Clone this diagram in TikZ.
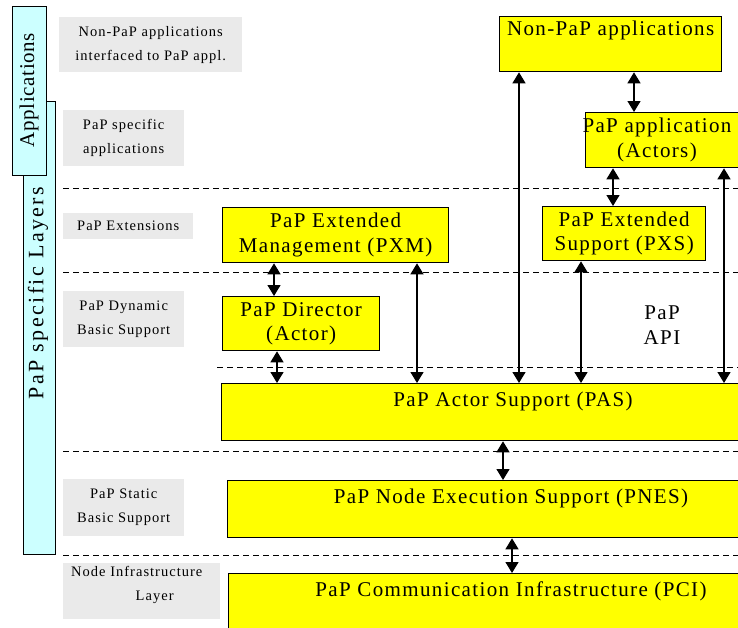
\documentclass[tikz,border=0pt]{standalone}
\usepackage{fontspec}
\setmainfont{Liberation Serif}
\newfontfamily\boxfamily[LetterSpace=6.5]{Liberation Serif}
\newfontfamily\tagfamily[LetterSpace=7]{Liberation Serif}
\newfontfamily\sidefamily[LetterSpace=3]{Liberation Serif}
\newfontfamily\layerfamily[LetterSpace=11]{Liberation Serif}
\usetikzlibrary{arrows.meta}
\definecolor{boxyellow}{RGB}{255,255,0}
\definecolor{sidecyan}{RGB}{204,255,255}
\definecolor{taggray}{RGB}{234,234,234}

\begin{document}
\begin{tikzpicture}[x=1pt,y=-1pt,
  ybox/.style={draw=black, line width=1.3pt, fill=boxyellow, inner sep=0pt,
    anchor=north west, align=center,
    font=\boxfamily\fontsize{21}{24.5}\selectfont},
  boxtext/.style={inner sep=0pt, align=center,
    font=\boxfamily\fontsize{21}{24.5}\selectfont},
  tag/.style={fill=taggray, inner sep=0pt, anchor=north west, align=center,
    font=\tagfamily\fontsize{14.5}{24}\selectfont},
  sidebar/.style={draw=black, line width=1.3pt, fill=sidecyan, inner sep=0pt,
    anchor=north west},
  layerline/.style={dash pattern=on 6pt off 4pt, line width=0.9pt},
  link/.style={{Triangle[width=13pt,length=11pt]}-{Triangle[width=13pt,length=11pt]},
    line width=1.3pt},
]
\fill[white] (0,0) rectangle (738,627);
\useasboundingbox (0,0) rectangle (738,627);

% side bars
\node[sidebar, minimum width=32pt, minimum height=453pt] (layersbar) at (23,101) {};
\node[rotate=90, font=\layerfamily\fontsize{22}{24}\selectfont] (layerstext) at (38,293) {PaP specific Layers};
\node[sidebar, minimum width=34pt, minimum height=169pt] (appsbar) at (12,6) {};
\node[rotate=90, font=\sidefamily\fontsize{21}{24}\selectfont] (appstext) at (29,90) {Applications};

% layer tags
\node[tag, minimum width=183pt, minimum height=55pt] (tagnonpap) at (59,17)
  {Non-PaP applications\\interfaced to PaP appl.};
\node[tag, minimum width=121pt, minimum height=56pt] (tagspecific) at (63,110)
  {PaP specific\\applications};
\node[tag, minimum width=130pt, minimum height=26pt] (tagext) at (63,213)
  {PaP Extensions};
\node[tag, minimum width=121pt, minimum height=56pt] (tagdyn) at (63,291)
  {PaP Dynamic\\Basic Support};
\node[tag, minimum width=121pt, minimum height=57pt] (tagstatic) at (63,479)
  {PaP Static\\Basic Support};
\node[tag, minimum width=157pt, minimum height=56pt] (tagnode) at (63,563) {};
\node[font=\tagfamily\fontsize{14.5}{24}\selectfont, align=left, inner sep=0pt,
  anchor=north west] (tagnodetext) at (71,566)
  {Node Infrastructure\\\hspace*{4.45em}Layer};

% layer separators
\draw[layerline] (63,188) -- (738,188);
\draw[layerline] (63,272) -- (738,272);
\draw[layerline] (217,367) -- (738,367);
\draw[layerline] (63,451) -- (738,451);
\draw[layerline] (63,555) -- (738,555);

% component boxes
\node[ybox, minimum width=222pt, minimum height=55pt] (nonpap) at (499,16)
  {Non-PaP applications\\\strut};
\node[ybox, minimum width=160pt, minimum height=55pt] (papapp) at (585,112) {};
\node[boxtext] (papapptext) at (657,140) {PaP application\\(Actors)};
\node[ybox, minimum width=226pt, minimum height=55pt] (pxm) at (222,207)
  {PaP Extended\\Management (PXM)};
\node[ybox, minimum width=163pt, minimum height=54pt] (pxs) at (542,206)
  {PaP Extended\\Support (PXS)};
\node[ybox, minimum width=157pt, minimum height=54pt] (dir) at (222,296)
  {PaP Director\\(Actor)};
\node[ybox, minimum width=524pt, minimum height=57pt] (pas) at (221,383) {};
\node[boxtext] (pastext) at (513,401) {PaP Actor Support (PAS)};
\node[ybox, minimum width=518pt, minimum height=57pt] (pnes) at (227,480) {};
\node[boxtext] (pnestext) at (511,498) {PaP Node Execution Support (PNES)};
\node[ybox, minimum width=517pt, minimum height=67pt] (pci) at (228,573) {};
\node[boxtext] (pcitext) at (511,591) {PaP Communication Infrastructure (PCI)};

\node[boxtext] (apitext) at (662,325) {PaP\\API};

% connector columns
\coordinate (c1) at (634,0);
\coordinate (c2) at (613,0);
\coordinate (c3) at (519,0);
\coordinate (c4) at (724,0);
\coordinate (c5) at (581,0);
\coordinate (c6) at (274,0);
\coordinate (c7) at (277,0);
\coordinate (c8) at (417,0);
\coordinate (c9) at (503,0);
\coordinate (c10) at (512,0);

% connectors
\draw[link] (nonpap.south -| c1) -- (papapp.north -| c1);
\draw[link] (papapp.south -| c2) -- (pxs.north -| c2);
\draw[link] (nonpap.south -| c3) -- (pas.north -| c3);
\draw[link] (papapp.south -| c4) -- (pas.north -| c4);
\draw[link] (pxs.south -| c5) -- (pas.north -| c5);
\draw[link] (pxm.south -| c6) -- (dir.north -| c6);
\draw[link] (dir.south -| c7) -- (pas.north -| c7);
\draw[link] (pxm.south -| c8) -- (pas.north -| c8);
\draw[link] (pas.south -| c9) -- (pnes.north -| c9);
\draw[link] (pnes.south -| c10) -- (pci.north -| c10);
\end{tikzpicture}
\end{document}
